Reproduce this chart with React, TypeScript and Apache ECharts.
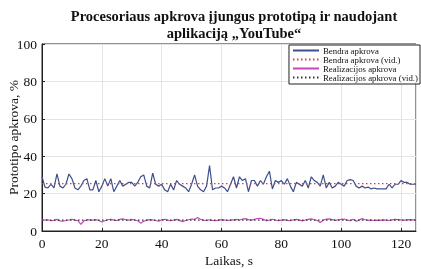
import React, { useEffect, useRef } from "react";
import * as echarts from "echarts";

const TITLE = "Procesoriaus apkrova įjungus prototipą ir naudojant\naplikaciją „YouTube“";
const X_NAME = "Laikas, s";
const Y_NAME = "Prototipo apkrova, %";
const SERIES_NAMES = ["Bendra apkrova", "Bendra apkrova (vid.)", "Realizacijos apkrova", "Realizacijos apkrova (vid.)"];

const totalLoad = [
  29, 23.5, 23, 25, 23, 30.5, 24, 23, 25, 30.5, 28, 23, 22, 24, 27, 28, 22, 22, 27, 21,
  24, 28, 24, 28, 21, 24, 27, 24, 25, 26, 26, 24, 26, 29, 30, 24, 23, 31, 25, 24,
  25, 22, 21, 25, 22, 27, 25, 24, 23, 21, 25, 30, 24, 22, 21, 24, 35, 22, 23, 23,
  24, 23, 21, 25, 29, 23, 29, 27, 28, 21, 27, 27, 24, 27, 25, 29, 32, 22.5, 27, 26,
  27, 25, 28, 24, 21, 26, 25, 24, 27, 23, 29, 27, 26, 24, 30, 23, 26, 23, 24, 26,
  25, 24, 27, 27.5, 27, 24, 23, 24, 23, 23.5, 22.5, 23, 22.5, 22.5, 22.5, 22.5, 25, 23, 25, 25,
  27, 26, 26, 25, 25, 25,
];
const realLoad = [
  6, 5.8, 6, 5.5, 5.7, 6.2, 5.4, 5.2, 5.6, 5.9, 6.3, 5.8, 5.5, 3.6, 5.4, 5.9, 6, 5.8, 6.1, 5.6,
  4.8, 5.5, 6, 6.3, 5.8, 5.6, 6.2, 6.5, 6, 5.8, 6.2, 5.9, 5.5, 4.2, 5.2, 5.8, 6.1, 5.9, 5.6, 5.2,
  6, 6.3, 5.8, 5.5, 5.9, 6.2, 5.7, 5, 5.6, 6, 6.4, 6.2, 7.2, 6.3, 5.8, 5.6, 6, 5.7, 5.5, 5.8,
  6.1, 5.9, 5.6, 5.8, 6, 6.2, 5.9, 6.4, 6.6, 6.1, 5.8, 6.3, 6.6, 6.8, 6.2, 5.5, 5.8, 6.3, 5.9, 5.5,
  5.8, 6.1, 5.7, 5.6, 6, 6.2, 5.8, 5.4, 5.9, 6.2, 6.5, 6, 5.6, 4.6, 5.8, 6.3, 6.5, 6.1, 5.7, 5.9,
  6.2, 6.4, 5.8, 5.5, 6.3, 5.2, 5.8, 6.6, 6, 5.7, 5.9, 5.6, 5.8, 5.7, 5.9, 5.8, 5.6, 6, 6.2, 6.1,
  5.9, 5.8, 6, 6.1, 6, 6,
];
const totalAvg = 25.3;
const realAvg = 5.8;
const xMax = 125;

export default function App() {
  const ref = useRef<HTMLDivElement>(null);
  useEffect(() => {
    if (!ref.current) return;
    const chart = echarts.init(ref.current, undefined, { renderer: "svg" });
    const serif = "Liberation Serif";
    const lineData = (arr: number[]) => arr.map((v, i) => [i, v]);
    chart.setOption({
      animation: false,
      textStyle: { fontFamily: serif },
      title: {
        text: TITLE,
        left: 229,
        textAlign: "center",
        top: 3,
        textStyle: { fontFamily: serif, fontWeight: "bold", fontSize: 14.5, color: "#111", lineHeight: 16.5 },
      },
      grid: { left: 42, right: 5, top: 44, bottom: 38, show: true, borderColor: "#222", borderWidth: 1, outerBoundsMode: "none", containLabel: false },
      legend: {
        orient: "vertical",
        right: 1,
        top: 45,
        itemWidth: 26,
        itemHeight: 1,
        itemGap: 0,
        padding: [1, 2, 2, 3],
        backgroundColor: "#fff",
        borderColor: "#222",
        borderWidth: 1,
        borderRadius: 0,
        itemStyle: { opacity: 0 },
        textStyle: { fontFamily: serif, fontSize: 8.8, color: "#111", padding: [0, 0, 0, -1] },
        data: SERIES_NAMES,
      },
      xAxis: {
        type: "value",
        min: 0,
        max: xMax,
        interval: 20,
        name: X_NAME,
        nameLocation: "middle",
        nameGap: 22,
        nameMoveOverlap: false,
        nameTextStyle: { fontFamily: serif, fontSize: 13.5, color: "#111" },
        axisLine: { show: true, lineStyle: { color: "#222" } },
        axisTick: { inside: true, length: 3, lineStyle: { color: "#222" } },
        axisLabel: { fontFamily: serif, fontSize: 13.5, color: "#111", margin: 5, showMaxLabel: false },
        splitLine: { show: true, lineStyle: { color: "#e4e4e4", width: 1 } },
      },
      yAxis: {
        type: "value",
        min: 0,
        max: 100,
        interval: 20,
        name: Y_NAME,
        nameLocation: "middle",
        nameGap: 22,
        nameMoveOverlap: false,
        nameTextStyle: { fontFamily: serif, fontSize: 13.5, color: "#111" },
        axisLine: { show: true, lineStyle: { color: "#222" } },
        axisTick: { inside: true, length: 3, lineStyle: { color: "#222" } },
        axisLabel: { fontFamily: serif, fontSize: 13.5, color: "#111", margin: 5 },
        splitLine: { show: true, lineStyle: { color: "#e4e4e4", width: 1 } },
      },
      series: [
        {
          name: SERIES_NAMES[0],
          type: "line",
          data: lineData(totalLoad),
          symbol: "none",
          lineStyle: { color: "#3d4f8c", width: 1.2 },
          itemStyle: { color: "#3d4f8c" },
          z: 3,
        },
        {
          name: SERIES_NAMES[1],
          type: "line",
          data: [[0, totalAvg], [xMax, totalAvg]],
          symbol: "none",
          lineStyle: { color: "#e03a3a", width: 1.2, type: [1.5, 2.5] },
          itemStyle: { color: "#e03a3a" },
          z: 4,
        },
        {
          name: SERIES_NAMES[2],
          type: "line",
          data: lineData(realLoad),
          symbol: "none",
          lineStyle: { color: "#c845c0", width: 1.2 },
          itemStyle: { color: "#c845c0" },
          z: 3,
        },
        {
          name: SERIES_NAMES[3],
          type: "line",
          data: [[0, realAvg], [xMax, realAvg]],
          symbol: "none",
          lineStyle: { color: "#333", width: 1.2, type: [1.5, 2.5] },
          itemStyle: { color: "#333" },
          z: 4,
        },
      ],
    });
    return () => chart.dispose();
  }, []);
  return <div ref={ref} style={{ position: "fixed", left: 0, top: 0, width: 421, height: 269 }} />;
}
